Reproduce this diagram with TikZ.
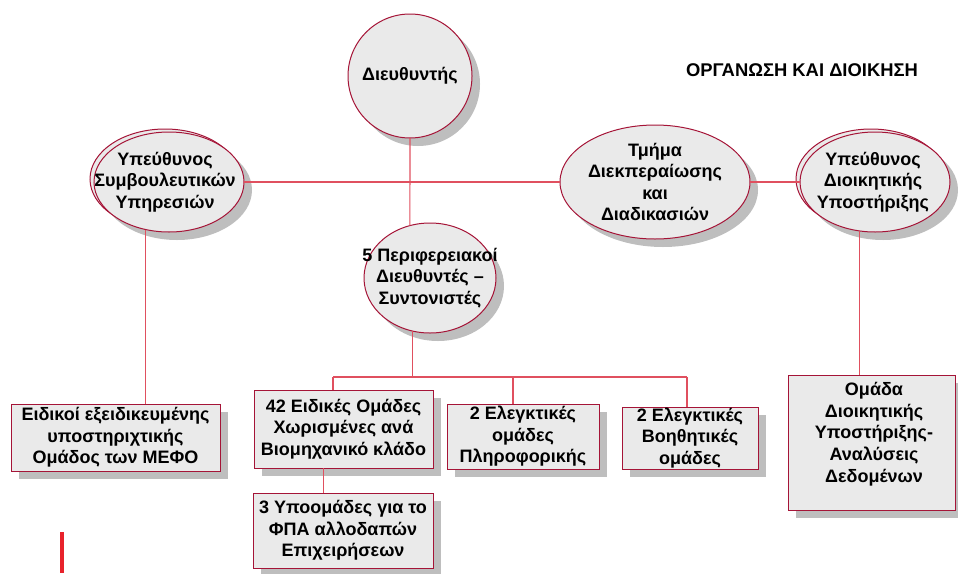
\documentclass[tikz,border=0pt]{standalone}
\usepackage{fontspec}
\setmainfont{Liberation Sans}
\usetikzlibrary{shapes.geometric,shadows}
\definecolor{bordercol}{HTML}{A51437}
\definecolor{linecol}{HTML}{E0505F}
\definecolor{fillcol}{HTML}{EAEAEA}
\definecolor{shadowcol}{HTML}{BEBEBE}
\definecolor{barcol}{HTML}{E8222B}
\newcommand\txtfont{\bfseries\fontsize{18}{21.6}\selectfont}
\newcommand\ttlfont{\bfseries\fontsize{18.4}{22}\selectfont}
\begin{document}
\begin{tikzpicture}[x=1pt,y=-1pt,
  shd/.style={drop shadow={shadow xshift=8pt,shadow yshift=-8pt,fill=shadowcol,opacity=1}},
  ellback/.style={ellipse,draw=bordercol,line width=1pt,fill=fillcol,inner sep=0pt,outer sep=0pt},
  ell/.style={ellback,shd},
  box/.style={rectangle,draw=bordercol,line width=1pt,fill=fillcol,inner sep=0pt,outer sep=0pt,align=center,font=\txtfont,shd},
  txt/.style={align=center,font=\txtfont,inner sep=0pt},
  conn/.style={draw=linecol,line width=1.1pt}]
\useasboundingbox (0,0) rectangle (958,573);

% ellipses
\node[ell,minimum width=124pt,minimum height=124pt] (dir) at (410,76) {};
\node[txt] (dirT) at (dir.center) {Διευθυντής};

\node[ellback,minimum width=150pt,minimum height=100pt] (symB) at (165,179) {};
\node[ell,minimum width=150pt,minimum height=100pt] (sym) at (169,182) {};
\node[txt] (symT) at (165,182) {Υπεύθυνος\\Συμβουλευτικών\\Υπηρεσιών};

\node[ell,minimum width=190pt,minimum height=114pt] (tm) at (655,182) {};
\node[txt] (tmT) at (tm.center) {Τμήμα\\Διεκπεραίωσης\\και\\Διαδικασιών};

\node[ellback,minimum width=150pt,minimum height=100pt] (ydiB) at (871,179) {};
\node[ell,minimum width=150pt,minimum height=100pt] (ydi) at (875,182) {};
\node[txt] (ydiT) at (873,182) {Υπεύθυνος\\Διοικητικής\\Υποστήριξης};

\node[ell,minimum width=132pt,minimum height=110pt] (per) at (430,278) {};
\node[txt] (perT) at (per.center) {5 Περιφερειακοί\\Διευθυντές --\\Συντονιστές};

% boxes
\node[box,minimum width=209pt,minimum height=67pt] (eid) at (115.5,437.5) {Ειδικοί εξειδικευμένης\\υποστηριχτικής\\Ομάδος των ΜΕΦΟ};
\node[box,minimum width=179pt,minimum height=78pt] (b42) at (343.5,429) {42 Ειδικές Ομάδες\\Χωρισμένες ανά\\Βιομηχανικό κλάδο};
\node[box,minimum width=152pt,minimum height=65pt] (bpl) at (523,436.5) {2 Ελεγκτικές\\ομάδες\\Πληροφορικής};
\node[box,minimum width=136pt,minimum height=62pt] (bvo) at (690,438) {2 Ελεγκτικές\\Βοηθητικές\\ομάδες};
\node[box,minimum width=167pt,minimum height=135pt] (oma) at (871.5,442.5) {};
\node[txt] (omaT) at (874,434) {Ομάδα\\Διοικητικής\\Υποστήριξης-\\Αναλύσεις\\Δεδομένων};
\node[box,minimum width=180pt,minimum height=75pt] (b3) at (343,530.5) {3 Υποομάδες για το\\ΦΠΑ αλλοδαπών\\Επιχειρήσεων};

% title
\node[font=\ttlfont,inner sep=0pt] (title) at (802,70) {ΟΡΓΑΝΩΣΗ ΚΑΙ ΔΙΟΙΚΗΣΗ};

% connectors
\coordinate (busL) at (333,377);
\coordinate (busM) at (513,377);
\coordinate (busR) at (687,377);
\draw[conn] (sym.east) -- (tm.west);
\draw[conn] (tm.east) -- (ydi.west);
\draw[conn] (dir.south) -- (per.111);
\draw[conn] (per.252) -- (per.252 |- busL);
\draw[conn] (busL) -- (busR);
\draw[conn] (busL) -- (busL |- b42.north);
\draw[conn] (busM) -- (busM |- bpl.north);
\draw[conn] (busR) -- (busR |- bvo.north);
\draw[conn] (sym.244) -- (sym.244 |- eid.north);
\draw[conn] (ydi.252) -- (ydi.252 |- oma.north);
\draw[conn] ([xshift=-20pt]b42.south) -- ([xshift=-20pt]b42.south |- b3.north);

% red bar
\fill[barcol] (60,532) rectangle (64,573);
\end{tikzpicture}
\end{document}
